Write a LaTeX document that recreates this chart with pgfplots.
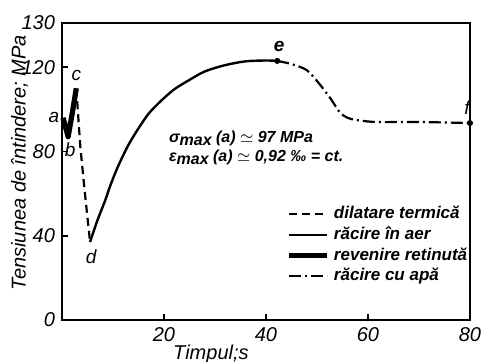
\documentclass[border=0pt]{standalone}
\usepackage{fontspec}
\setmainfont{Liberation Sans}
\usepackage{pgfplots}
\pgfplotsset{compat=1.18}

\begin{document}
\begin{tikzpicture}
\path[use as bounding box] (-31pt,-20.5pt) rectangle (209.5pt,160pt);
\begin{axis}[
    at={(0,0)}, anchor=south west,
    scale only axis, width=204pt, height=148.5pt,
    xmin=0, xmax=80, ymin=0, ymax=141,
    xtick={20,40,60,80},
    ytick={0,40,80,120,141}, yticklabels={0,40,80,120,130},
    tick pos=left, tick align=inside,
    major tick length=3pt,
    axis line style={line width=1pt},
    tick style={line width=0.9pt, black},
    /pgf/number format/assume math mode=true,
    ticklabel style={font=\fontsize{10}{11}\selectfont\itshape},
    xlabel={Timpul;s},
    ylabel={Tensiunea de întindere; MPa},
    label style={font=\fontsize{10}{12}\selectfont\itshape},
    xlabel style={at={(axis description cs:0.365,0)}, anchor=north, yshift=-9pt},
    ylabel style={at={(axis description cs:-0.104,0.53)}, anchor=center},
    clip=false,
    legend style={draw=none, fill=none, at={(axis cs:44,56)}, anchor=north west,
        font=\fontsize{8.5}{10}\selectfont\bfseries\itshape, row sep=-1.5pt,
        inner sep=0pt, cells={anchor=west}},
    legend cell align=left,
    legend image code/.code={\draw[#1] (0pt,0pt) -- (19pt,0pt);},
]
\addlegendimage{black, line width=1.1pt, dash pattern=on 4pt off 2.5pt}
\addlegendentry{dilatare termică}
\addlegendimage{black, line width=1.1pt}
\addlegendentry{răcire în aer}
\addlegendimage{black, line width=2.6pt}
\addlegendentry{revenire retinută}
\addlegendimage{black, line width=1.1pt, dash pattern=on 6pt off 2pt on 1pt off 2pt}
\addlegendentry{răcire cu apă}

% revenire retinuta (a -> b -> c)
\addplot[forget plot, black, line width=2.6pt, line join=round] coordinates {
    (0.2,96) (1.2,87) (2.0,98) (2.8,110)
};
% dilatare termica (c -> d)
\addplot[forget plot, black, line width=1.1pt, dash pattern=on 4pt off 2.5pt] coordinates {
    (2.8,110) (3.6,82) (4.5,60) (5.5,37)
};
% racire in aer (d -> e)
\addplot[forget plot, black, line width=1.2pt, smooth] coordinates {
    (5.5,37) (6.9,47) (8.5,57) (9.5,64) (11,73) (13,83) (15,91) (17,98)
    (19.4,104) (22,109.5) (25,114) (28,118) (32,121) (36,122.8) (40,123.2) (42.2,123)
};
% racire cu apa (e -> f)
\addplot[forget plot, black, line width=1.1pt, smooth, dash pattern=on 6pt off 2pt on 1pt off 2pt] coordinates {
    (42.2,123) (45,121.5) (48,118.6) (50.5,112) (52.7,105) (54.5,98.5) (56,96)
    (57.6,95) (61.6,94) (70,94) (80,93.5)
};
\addplot[forget plot, only marks, mark=*, mark size=1.3pt, black] coordinates {(42.2,123) (80,93.5)};

\node[font=\fontsize{9.5}{11}\selectfont\itshape] at (axis cs:-1.6,96) {a};
\node[font=\fontsize{9.5}{11}\selectfont\itshape] at (axis cs:1.6,81) {b};
\node[font=\fontsize{9.5}{11}\selectfont\itshape] at (axis cs:2.8,116) {c};
\node[font=\fontsize{9.5}{11}\selectfont\itshape] at (axis cs:5.7,30) {d};
\node[font=\fontsize{9.5}{11}\selectfont\bfseries\itshape] at (axis cs:42.6,130) {e};
\node[font=\fontsize{9.5}{11}\selectfont\itshape] at (axis cs:79.4,101) {f};

\node[anchor=west, inner ysep=1pt, font=\fontsize{8}{9}\selectfont\bfseries\itshape] at (axis cs:19.6,86)
    {σ\raisebox{-0.25ex}{max} (a) $\simeq$ 97 MPa};
\node[anchor=west, inner ysep=1pt, font=\fontsize{8}{9}\selectfont\bfseries\itshape] at (axis cs:19.6,77)
    {ε\raisebox{-0.25ex}{max} (a) $\simeq$ 0,92 ‰ = ct.};
\end{axis}
\end{tikzpicture}
\end{document}
